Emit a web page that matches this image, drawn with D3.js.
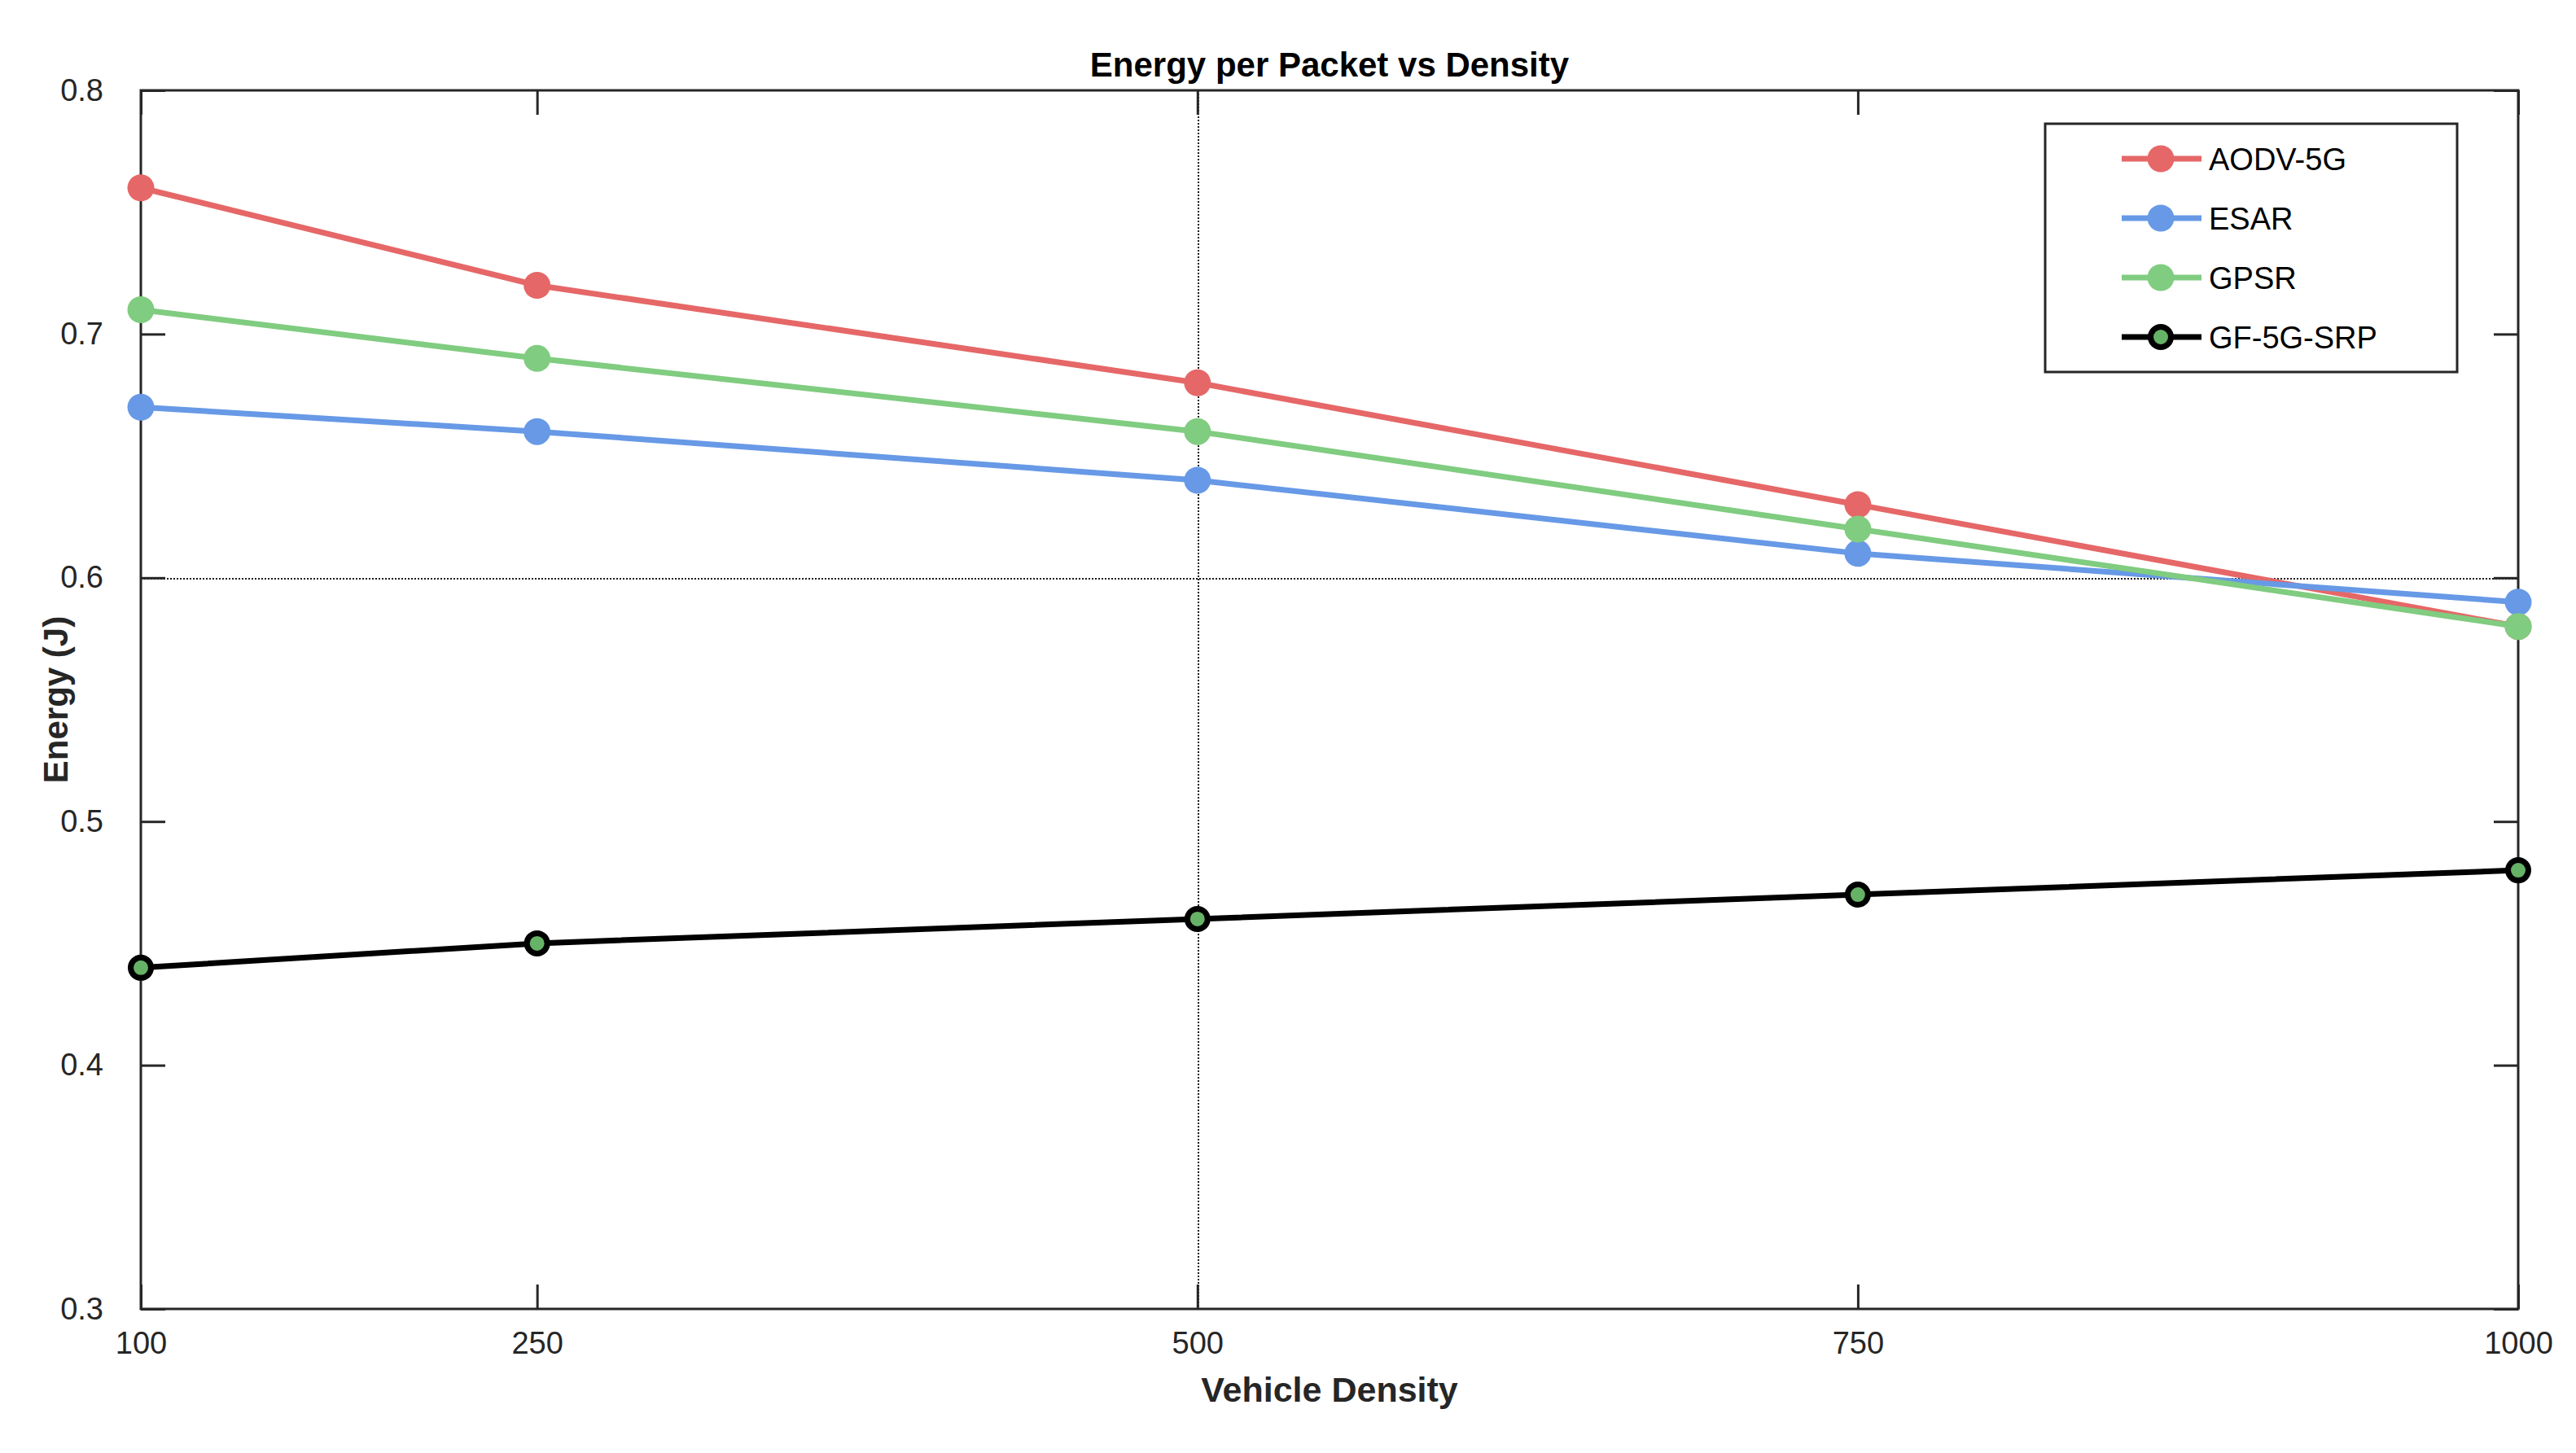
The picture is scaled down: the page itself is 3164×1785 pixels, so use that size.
<!DOCTYPE html>
<html>
<head>
<meta charset="utf-8">
<script src="https://cdn.jsdelivr.net/npm/d3@7.9.0/dist/d3.min.js"></script>
<style>
  body { margin: 0; background: #fff; }
  svg { display: block; font-family: 'Liberation Sans', Arial, Helvetica, sans-serif; }
</style>
</head>
<body>
<div id="chart"></div>
<script>
// data
const densities = [100, 250, 500, 750, 1000];
const seriesNames = ['AODV-5G', 'ESAR', 'GPSR', 'GF-5G-SRP'];
const aodv = [0.76, 0.72, 0.68, 0.63, 0.58];
const esar = [0.67, 0.66, 0.64, 0.61, 0.59];
const gpsr = [0.71, 0.69, 0.66, 0.62, 0.58];
const gfsrp = [0.44, 0.45, 0.46, 0.47, 0.48];
const yTicks = [0.3, 0.4, 0.5, 0.6, 0.7, 0.8];

const width = 3164;
const height = 1785;
const margin = { top: 111, right: 71, bottom: 177, left: 173 };
const area = {
  left: margin.left,
  right: width - margin.right,
  top: margin.top,
  bottom: height - margin.bottom,
};

const series = [
  { name: seriesNames[0], values: aodv, color: '#e66767', fill: '#e66767', r: 16.5, sw: 0 },
  { name: seriesNames[1], values: esar, color: '#6799e6', fill: '#6799e6', r: 16.5, sw: 0 },
  { name: seriesNames[2], values: gpsr, color: '#80cc80', fill: '#80cc80', r: 16.5, sw: 0 },
  { name: seriesNames[3], values: gfsrp, color: '#000000', fill: '#66b266', r: 12.5, sw: 7 },
];

const svg = d3.select('#chart')
  .append('svg')
  .attr('width', width)
  .attr('height', height);

const x = d3.scaleLinear().domain([100, 1000]).range([area.left, area.right]);
const y = d3.scaleLinear().domain([0.3, 0.8]).range([area.bottom, area.top]);

const axisColor = '#262626';
const tickLen = 30;

// the only grid lines in the picture (dotted)
svg.append('line')
  .attr('x1', Math.round(x(500)) + 0.5).attr('x2', Math.round(x(500)) + 0.5)
  .attr('y1', area.top).attr('y2', area.bottom)
  .attr('stroke', '#1a1a1a').attr('stroke-width', 2)
  .attr('shape-rendering', 'crispEdges')
  .attr('stroke-dasharray', '2,2');
svg.append('line')
  .attr('x1', area.left).attr('x2', area.right)
  .attr('y1', Math.round(y(0.6)) + 0.5).attr('y2', Math.round(y(0.6)) + 0.5)
  .attr('stroke', '#1a1a1a').attr('stroke-width', 2)
  .attr('shape-rendering', 'crispEdges')
  .attr('stroke-dasharray', '2,2');

// axes, ticks pointing inwards, box on
const gx = svg.append('g')
  .attr('transform', `translate(0,${area.bottom})`)
  .call(d3.axisBottom(x).tickValues(densities).tickSizeInner(-tickLen).tickSizeOuter(0).tickPadding(tickLen + 20).tickFormat(d3.format('d')));
const gxTop = svg.append('g')
  .attr('transform', `translate(0,${area.top})`)
  .call(d3.axisTop(x).tickValues(densities).tickSizeInner(-tickLen).tickSizeOuter(0).tickFormat(''));
const gy = svg.append('g')
  .attr('transform', `translate(${area.left},0)`)
  .call(d3.axisLeft(y).tickValues(yTicks).tickSizeInner(-tickLen).tickSizeOuter(0).tickPadding(tickLen + 16).tickFormat(d3.format('.1f')));
const gyRight = svg.append('g')
  .attr('transform', `translate(${area.right},0)`)
  .call(d3.axisRight(y).tickValues(yTicks).tickSizeInner(-tickLen).tickSizeOuter(0).tickFormat(''));

[gx, gxTop, gy, gyRight].forEach((g) => {
  g.select('.domain').remove();
  g.selectAll('.tick line').attr('stroke', axisColor).attr('stroke-width', 3);
  g.selectAll('.tick text')
    .attr('fill', axisColor)
    .attr('font-size', 38)
    .attr('font-family', "'Liberation Sans', Arial, sans-serif");
});
gx.selectAll('.tick text').attr('dy', '0.71em').attr('y', 28);

svg.append('rect')
  .attr('x', area.left).attr('y', area.top)
  .attr('width', area.right - area.left)
  .attr('height', area.bottom - area.top)
  .attr('fill', 'none')
  .attr('stroke', axisColor)
  .attr('stroke-width', 3);

// lines and markers
const line = d3.line()
  .x((d, i) => x(densities[i]))
  .y((d) => y(d));

const lines = svg.append('g').attr('class', 'lines');
series.forEach((s) => {
  lines.append('path')
    .attr('d', line(s.values))
    .attr('fill', 'none')
    .attr('stroke', s.color)
    .attr('stroke-width', 7)
    .attr('stroke-linejoin', 'round');
  lines.selectAll(null)
    .data(s.values)
    .join('circle')
    .attr('cx', (d, i) => x(densities[i]))
    .attr('cy', (d) => y(d))
    .attr('r', s.r)
    .attr('fill', s.fill)
    .attr('stroke', s.sw ? s.color : 'none')
    .attr('stroke-width', s.sw);
});

// title and axis labels
svg.append('text')
  .attr('x', (area.left + area.right) / 2)
  .attr('y', 94)
  .attr('text-anchor', 'middle')
  .attr('font-size', 42)
  .attr('font-weight', 'bold')
  .attr('fill', '#000')
  .text('Energy per Packet vs Density');

svg.append('text')
  .attr('x', (area.left + area.right) / 2)
  .attr('y', 1722)
  .attr('text-anchor', 'middle')
  .attr('font-size', 43)
  .attr('font-weight', 'bold')
  .attr('fill', axisColor)
  .text('Vehicle Density');

svg.append('text')
  .attr('transform', `translate(83,${(area.top + area.bottom) / 2}) rotate(-90)`)
  .attr('text-anchor', 'middle')
  .attr('font-size', 42)
  .attr('font-weight', 'bold')
  .attr('fill', axisColor)
  .text('Energy (J)');

// legend
const legend = svg.append('g').attr('transform', 'translate(2512,152)');
legend.append('rect')
  .attr('width', 506).attr('height', 305)
  .attr('fill', '#fff')
  .attr('stroke', axisColor)
  .attr('stroke-width', 3);

const rows = legend.selectAll('g.row')
  .data(series)
  .join('g')
  .attr('class', 'row')
  .attr('transform', (d, i) => `translate(0,${43 + i * 73})`);
rows.append('line')
  .attr('x1', 94).attr('x2', 192)
  .attr('stroke', (d) => d.color)
  .attr('stroke-width', 7);
rows.append('circle')
  .attr('cx', 142)
  .attr('r', (d) => d.r)
  .attr('fill', (d) => d.fill)
  .attr('stroke', (d) => (d.sw ? d.color : 'none'))
  .attr('stroke-width', (d) => d.sw);
rows.append('text')
  .attr('x', 201)
  .attr('dy', '0.36em')
  .attr('font-size', 38)
  .attr('fill', '#000')
  .text((d) => d.name);
</script>
</body>
</html>
